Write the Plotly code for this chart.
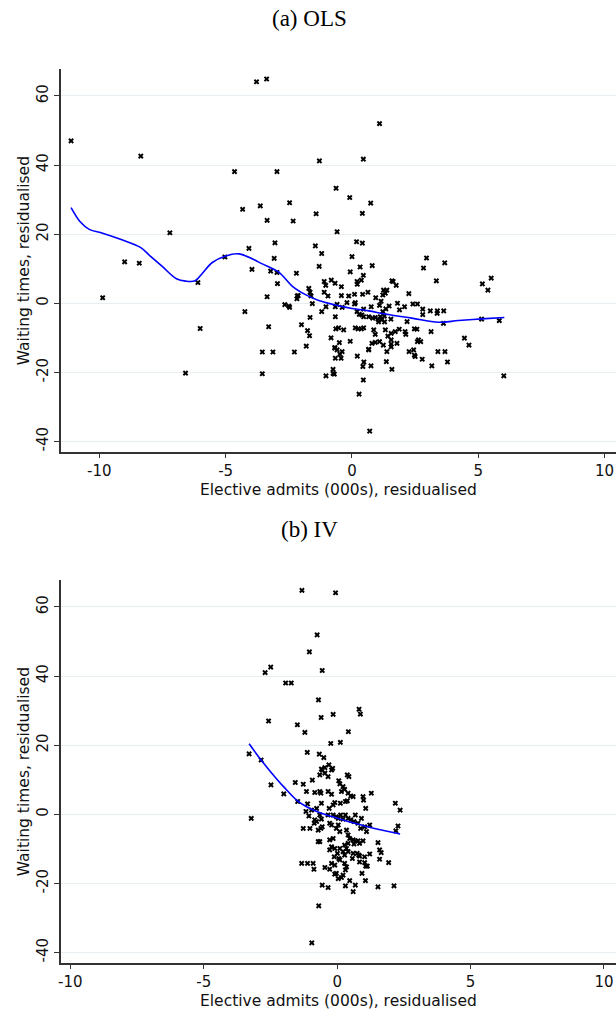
import plotly.graph_objects as go

# ---------------- data: (a) OLS ----------------
ols_x = [-11.12, -8.36, -3.78, -3.38, -4.65, -2.97, -4.33, -3.63, -2.47, -3.36, -2.33, -7.21, -4.08, -3.05,
         -5.03, -3.08, -9.0, -8.42, -3.96, -3.22, -2.97, -2.2, -6.1, -2.95, -9.87, -3.36, -1.71, -2.17,
         -4.24, -6.01, -3.3, -3.55, -3.13, -2.28, -6.59, -3.55, -2.66, -2.5, -2.47, -2.18, -2.13, -2.0,
         -1.76, -1.68, -1.81, -1.66, 1.09, -1.29, 0.45, -0.63, -0.09, 0.74, -1.42, 0.41, -0.59, -1.45,
         0.18, 0.41, -1.2, 0.0, -1.3, 0.32, 0.8, -0.07, 0.45, 2.95, 3.67, 2.83, 3.34, 5.51, 5.16, 5.38,
         -1.1, -1.04, -0.82, -0.67, -0.42, 0.2, 0.21, 0.37, 1.58, 1.63, 1.75, -1.66, -1.1, -0.95, -0.42,
         -0.13, 0.42, 0.63, 0.94, 1.25, 1.38, 1.32, 1.22, 2.25, -1.62, 0.1, -1.57, -1.03, -0.59, -0.2,
         0.13, 0.1, 0.46, 0.76, 1.09, 1.15, 1.47, 1.8, 1.88, 2.08, 2.41, 2.59, 2.8, 2.8, 3.1, 3.38, 3.63,
         3.37, -0.66, -0.39, 1.34, 1.22, -1.2, -0.66, 0.2, 0.29, 0.39, 0.46, 0.66, 0.82, 0.92, 1.03, 1.12,
         1.18, 1.28, 1.05, 1.29, 1.54, 2.18, 5.13, 5.83, 3.62, -0.64, -0.53, -0.33, 0.13, 0.24, 0.37, 0.46,
         0.86, 0.92, 1.32, 1.42, 1.55, 1.71, 1.87, 2.1, 2.13, 2.47, 2.57, 3.13, -0.83, -0.5, -0.07, 0.79,
         0.92, 1.09, 1.24, 1.55, 1.55, 1.55, 1.78, 2.63, 2.59, 2.72, 4.45, 4.63, -0.68, -0.59, -0.39, -0.48,
         -0.66, -0.43, 0.66, 0.21, 1.38, 2.26, 2.44, 2.47, 2.5, 2.78, 3.4, 3.68, 3.78, 0.47, 0.43, 0.75,
         1.36, 1.58, 3.16, -0.75, -0.75, -0.7, -1.03, 0.45, 0.28, 0.7, 6.01, -0.68, 0.66]
ols_y = [47.0, 42.6, 64.1, 64.9, 38.1, 38.1, 27.2, 28.2, 29.1, 24.0, 23.8, 20.4, 15.9, 17.5,
         13.4, 13.0, 12.0, 11.6, 9.8, 9.3, 8.9, 8.7, 6.0, 5.7, 1.6, 1.9, 4.3, 2.1,
         -2.4, -7.3, -6.8, -14.1, -14.1, -14.1, -20.2, -20.4, -0.4, -0.8, -1.2, 1.3, 2.2, -6.2,
         -7.9, -9.4, -12.4, -4.1, 52.0, 41.2, 41.7, 33.3, 30.6, 29.0, 25.9, 26.0, 20.7, 16.6,
         17.8, 17.4, 14.4, 13.5, 10.7, 10.5, 10.9, 9.1, 8.1, 13.1, 11.7, 10.2, 6.5, 7.3, 5.6, 3.8,
         6.3, 5.2, 6.7, 5.8, 4.8, 6.3, 5.5, 6.7, 6.5, 6.3, 5.2, 3.2, 3.2, 2.1, 2.2,
         2.1, 2.6, 3.2, 1.6, 3.8, 3.8, 2.9, 2.4, 2.8, 2.1, 2.6, -0.1, -1.0, -0.3, 0.2,
         0.2, -0.2, -1.7, -1.0, -0.6, 0.6, -0.8, 0.0, -1.9, -1.0, -0.2, -0.2, -1.7, -3.3, -2.2, -2.2, -2.2,
         -2.9, -1.0, -1.2, -1.6, -2.4, -2.4, -3.9, -2.4, -3.2, -3.4, -3.9, -3.9, -4.3, -4.1, -4.6, -3.9,
         -4.8, -3.7, -5.4, -5.4, -4.6, -5.3, -4.6, -5.0, -5.8, -7.4, -7.1, -7.7, -7.1, -7.4, -7.4, -7.1,
         -7.7, -9.0, -7.7, -9.5, -8.7, -8.2, -7.5, -8.2, -9.0, -7.4, -7.5, -8.2, -10.0, -11.4, -11.0, -11.6,
         -11.3, -11.1, -12.1, -10.6, -11.8, -12.6, -11.6, -10.6, -11.1, -11.1, -10.1, -12.1, -13.0, -13.5, -14.0, -14.7,
         -15.9, -15.9, -13.5, -15.3, -14.0, -14.0, -13.5, -15.0, -15.4, -16.2, -14.0, -14.0, -17.0, -17.0, -18.3, -18.1,
         -16.9, -19.1, -18.1, -19.1, -20.3, -20.5, -21.0, -22.2, -26.3, -37.0, -21.0, -12.8, -13.3]
ols_fit_x = [-11.12, -10.76, -10.4, -9.87, -9.08, -8.36, -7.96, -7.5, -6.95, -6.58, -6.21, -5.92, -5.53,
             -5.0, -4.47, -4.08, -3.55, -2.9, -2.37, -1.84, -1.32, -0.66, 0.0, 0.66, 1.32, 2.37, 3.42,
             4.21, 5.13, 6.03]
ols_fit_y = [27.7, 23.6, 21.4, 20.3, 18.3, 16.1, 13.5, 10.6, 7.1, 6.4, 6.5, 8.7, 11.8,
             13.7, 14.3, 13.3, 11.4, 9.0, 5.0, 2.5, 0.8, -0.5, -1.5, -2.2, -3.1, -4.3, -5.5,
             -5.0, -4.5, -4.1]

# ---------------- data: (b) IV ----------------
iv_x = [-1.32, -0.06, -0.75, -1.04, -2.7, -2.49, -0.56, -1.93, -1.72, -0.7, -2.57, -0.6, -0.15, 0.82, 0.87,
        -1.49, -1.21, 0.42, -0.24, 0.12, -3.3, -2.85, -1.12, -0.67, -0.5, -0.31, -0.59, -0.46, -0.17,
        -0.65, -0.56, -0.21, -0.34, -0.46, 0.38, 0.44, -2.48, -2.0, -1.57, -1.27, -0.93, -1.15, -0.84, -0.65,
        -0.61, -0.21, -0.34, 0.06, 0.1, 0.22, 0.28, 0.16, 0.41, 0.51, 0.6, 0.38, 0.31, 0.12, -0.09, -0.15,
        0.97, 0.99, 1.28, 1.07, 2.18, 2.36, -3.22, -1.48, -1.11, -0.96, -1.17, -0.77, -0.59, -0.3, -0.65,
        -0.34, -0.15, -1.06, -0.84, -0.77, -0.86, -0.59, -0.56, -0.28, -0.21, -0.03, 0.04, 0.13, 0.22, 0.31,
        0.41, 0.51, 0.68, 0.63, 0.78, 0.91, 0.88, 1.03, 1.22, 1.1, 0.04, -0.03, 0.1, -0.71, -0.61, -1.27,
        -1.02, 2.28, 2.2, 0.35, 0.41, 0.47, 0.6, 0.68, 0.78, 0.97, 0.84, 0.63, 0.41, 0.28, 0.35, 0.22, 0.41,
        0.6, 0.81, 1.03, 1.53, 1.59, 1.65, 1.59, 1.93, 1.22, -0.71, -0.65, -0.28, -0.15, -0.21, -0.28, -0.09,
        0.1, 0.01, -0.11, 0.06, 0.28, -1.33, -1.11, -0.9, -0.87, -0.46, -0.28, -0.09, -0.03, 0.22, 0.16,
        0.04, 0.31, 0.93, 1.07, 1.06, 0.47, 0.68, 0.31, 0.6, -0.56, -0.34, 1.53, 2.13, -0.69, -0.95,
        -0.21, 0.1, 0.28, 0.35, 0.57, 0.84, 1.03, 1.13, 0.75, 0.84, -0.09]
iv_y = [64.8, 64.1, 51.9, 47.0, 41.0, 42.6, 41.6, 38.0, 38.0, 33.1, 27.0, 28.0, 28.9, 30.4, 29.0,
        25.9, 23.7, 23.9, 20.5, 20.8, 17.5, 15.7, 17.9, 17.4, 16.4, 14.3, 13.1, 13.5, 13.3,
        11.4, 12.8, 12.8, 10.9, 11.9, 11.4, 10.9, 8.5, 5.9, 9.2, 8.7, 9.9, 6.6, 6.3, 6.6,
        6.1, 5.8, 6.6, 9.7, 8.8, 8.0, 7.2, 6.6, 6.1, 5.3, 5.1, 3.9, 3.7, 3.2, 3.4, 2.7,
        5.1, 4.1, 6.1, 1.7, 3.2, 1.2, -1.2, 3.7, 3.0, 1.2, 0.8, 1.7, 3.2, 1.7, -0.2,
        -0.2, -0.2, -0.5, -1.6, -2.1, -2.6, -1.4, -3.6, -2.6, -3.1, -0.7, -1.2, -0.2, -1.4, -0.2,
        -1.2, -1.6, -0.2, -2.1, -2.6, -1.2, -4.1, -3.6, -3.1, -5.0, -3.1, -4.1, -5.0, -4.6, -4.1, -4.1,
        -4.1, -3.4, -4.8, -4.6, -6.0, -7.0, -7.4, -7.7, -7.7, -7.7, -8.4, -8.6, -8.4, -8.9, -9.9, -10.8, -10.8,
        -11.3, -11.8, -12.3, -8.2, -10.3, -11.1, -13.0, -14.0, -11.5, -7.9, -7.9, -7.4, -7.0, -9.4, -10.3, -9.9,
        -9.9, -11.3, -12.3, -12.8, -11.8, -14.2, -14.2, -14.2, -15.9, -15.4, -15.9, -14.7, -17.1, -17.6, -18.3,
        -18.6, -16.1, -17.1, -15.0, -19.2, -19.2, -20.5, -20.7, -22.4, -20.5, -21.2, -21.0, -20.7, -26.5, -37.2,
        -14.2, -13.2, -14.2, -15.2, -12.8, -13.8, -14.0, -15.0, -11.3, -12.1, -17.3]
iv_fit_x = [-3.3, -2.85, -2.45, -2.01, -1.52, -1.15, -0.59, 0.04, 0.66, 1.4, 2.36]
iv_fit_y = [20.4, 15.7, 11.9, 8.0, 4.1, 2.2, 0.3, -1.2, -2.6, -4.1, -5.7]

y_ticks = [-40, -20, 0, 20, 40, 60]
y_ticktext = ["-40", "-20", "0", "20", "40", "60"]
x_ticks = [-10, -5, 0, 5, 10]
x_ticktext = ["-10", "-5", "0", "5", "10"]
titles = ["(a) OLS", "(b) IV"]
x_title = "Elective admits (000s), residualised"
y_title = "Waiting times, residualised"

W, H = 616, 1009
sans = "DejaVu Sans"
serif = "Liberation Serif"

fig = go.Figure()
marker = dict(symbol="x", size=5, color="black", line=dict(width=0))
fig.add_trace(go.Scatter(x=ols_x, y=ols_y, mode="markers", marker=marker, xaxis="x", yaxis="y", showlegend=False))
fig.add_trace(go.Scatter(x=ols_fit_x, y=ols_fit_y, mode="lines", line=dict(color="#0000ff", width=1.6, shape="spline"),
                         xaxis="x", yaxis="y", showlegend=False))
fig.add_trace(go.Scatter(x=iv_x, y=iv_y, mode="markers", marker=marker, xaxis="x2", yaxis="y2", showlegend=False))
fig.add_trace(go.Scatter(x=iv_fit_x, y=iv_fit_y, mode="lines", line=dict(color="#0000ff", width=1.6, shape="spline"),
                         xaxis="x2", yaxis="y2", showlegend=False))

def py(p):
    return 1 - p / H

axis_common = dict(showline=True, linecolor="#333333", linewidth=1.5, ticks="outside", ticklen=5,
                   tickcolor="#333333", tickwidth=1.2, zeroline=False,
                   tickfont=dict(family=sans, size=15, color="#111111"))
xa = dict(axis_common, showgrid=False, tickvals=x_ticks, ticktext=x_ticktext)
ya = dict(axis_common, showgrid=True, gridcolor="#e6eef1", gridwidth=1.2, tickvals=y_ticks,
          ticktext=y_ticktext, tickangle=-90, range=[-42.95, 67.8])

tfont = dict(family=sans, size=15.5, color="#111111")
annotations = []
for i, (top, bottom) in enumerate([(69, 451.7), (580, 962.7)]):
    annotations.append(dict(text=titles[i], x=308 / W, y=py(top - 51), xref="paper", yref="paper",
                            showarrow=False, font=dict(family=serif, size=23, color="black"),
                            xanchor="center", yanchor="middle"))
    annotations.append(dict(text=x_title, x=(58 + 616) / 2 / W, y=py(bottom + 38), xref="paper", yref="paper",
                            showarrow=False, font=tfont, xanchor="center", yanchor="middle"))
    annotations.append(dict(text=y_title, x=21 / W, y=py((top + bottom) / 2), xref="paper", yref="paper",
                            showarrow=False, font=tfont, textangle=-90, xanchor="center", yanchor="middle"))

fig.update_layout(
    width=W, height=H, margin=dict(l=0, r=0, t=0, b=0),
    paper_bgcolor="white", plot_bgcolor="white",
    xaxis=dict(xa, domain=[58 / W, 1.0], range=[-11.53, 10.45], anchor="y"),
    yaxis=dict(ya, domain=[py(451.7), py(69)], anchor="x"),
    xaxis2=dict(xa, domain=[58 / W, 1.0], range=[-10.36, 10.45], anchor="y2"),
    yaxis2=dict(ya, domain=[py(962.7), py(580)], anchor="x2"),
    annotations=annotations,
)

fig.write_html("out.html")
